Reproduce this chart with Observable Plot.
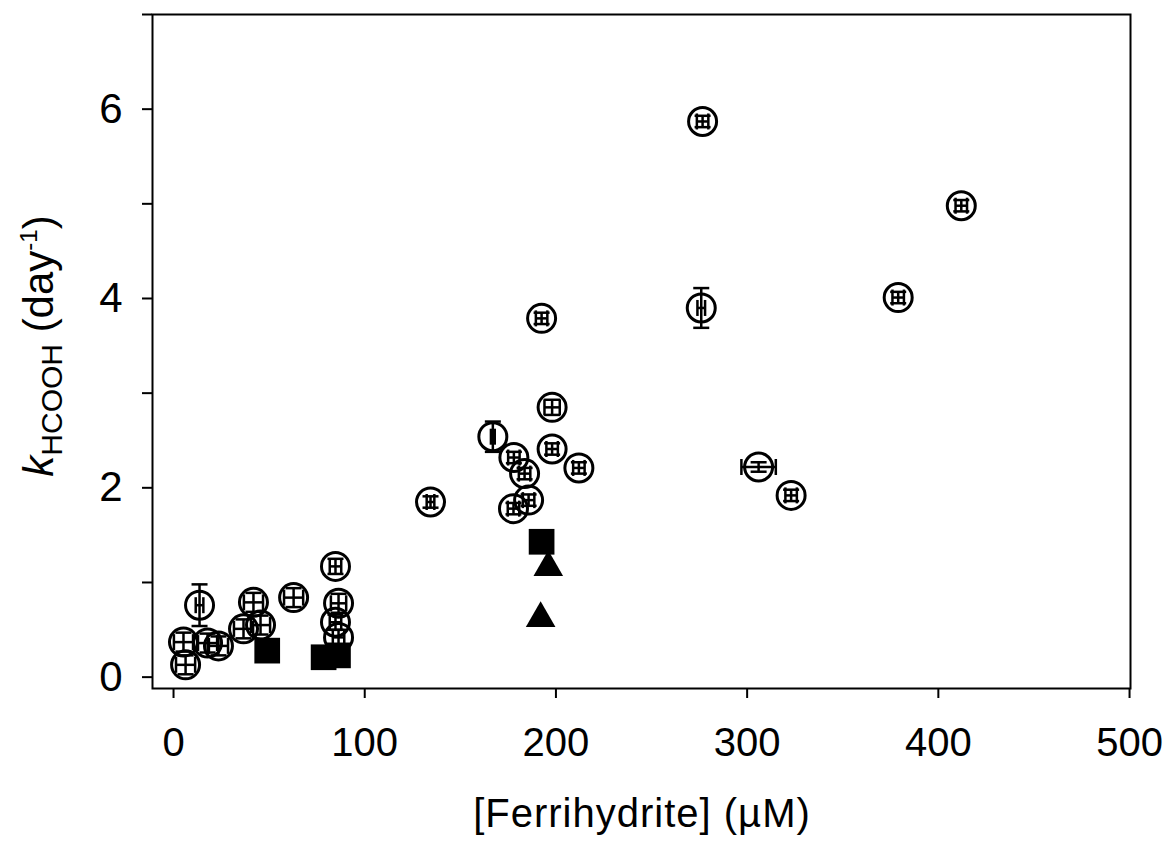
<!DOCTYPE html>
<html>
<head>
<meta charset="utf-8">
<script src="https://cdn.jsdelivr.net/npm/d3@7"></script>
<script src="https://cdn.jsdelivr.net/npm/@observablehq/plot@0.6"></script>
<style>
  html, body { margin: 0; padding: 0; background: #fff; }
  #chart svg { display: block; }
</style>
</head>
<body>
<div id="chart"></div>
<script>
// Open circles (with x and y error bars)
const circleFerri = [6.3, 5.2, 13.6, 17.8, 23.5, 36.6, 41.8, 45.5, 62.8, 84.7, 86.3, 84.7, 86.3,
                     167, 178, 183.6, 198, 212, 134.4, 185.7, 177.8, 198,
                     276.7, 412, 379, 276, 192.5, 306, 323];
const circleK     = [0.13, 0.37, 0.76, 0.36, 0.33, 0.51, 0.79, 0.55, 0.84, 1.17, 0.78, 0.58, 0.42,
                     2.54, 2.32, 2.15, 2.41, 2.21, 1.85, 1.87, 1.78, 2.85,
                     5.87, 4.98, 4.01, 3.90, 3.79, 2.22, 1.92];
const circleFerriErr = [5, 5, 2, 5, 5, 5, 5, 5, 5, 3, 4, 3, 3,
                        1, 3, 3, 3, 3, 2, 3, 3, 4,
                        3, 3, 3, 2, 3, 9, 3];
const circleKErr     = [0.1, 0.1, 0.22, 0.1, 0.1, 0.1, 0.1, 0.1, 0.1, 0.08, 0.1, 0.08, 0.08,
                        0.16, 0.06, 0.06, 0.06, 0.06, 0.06, 0.06, 0.06, 0.08,
                        0.06, 0.06, 0.06, 0.21, 0.06, 0.05, 0.06];
// Filled squares
const squareFerri = [49, 78.5, 86, 192.5];
const squareK     = [0.28, 0.21, 0.23, 1.43];
// Filled triangles
const triFerri = [196, 192];
const triK     = [1.16, 0.62];
// Ticks
const xTicks = [0, 100, 200, 300, 400, 500];
const yTicks = [0, 1, 2, 3, 4, 5, 6, 7];

const circles = circleFerri.map((x, i) => ({x, y: circleK[i], xe: circleFerriErr[i], ye: circleKErr[i]}));
const squares = squareFerri.map((x, i) => ({x, y: squareK[i]}));
const tris = triFerri.map((x, i) => ({x, y: triK[i]}));

const hCap = {draw(ctx, size) { const r = Math.sqrt(size / Math.PI); ctx.moveTo(-r, 0); ctx.lineTo(r, 0); }};
const vCap = {draw(ctx, size) { const r = Math.sqrt(size / Math.PI); ctx.moveTo(0, -r); ctx.lineTo(0, r); }};

const FONT = "'Liberation Sans', Arial, Helvetica, sans-serif";

const plot = Plot.plot({
  width: 1169,
  height: 841,
  marginLeft: 152,
  marginRight: 39,
  marginTop: 14,
  marginBottom: 153,
  style: {fontFamily: FONT, color: "black", background: "white"},
  x: {domain: [-11, 500.5]},
  y: {domain: [-0.12, 7]},
  marks: [
    Plot.frame({stroke: "black", strokeWidth: 2}),
    Plot.axisX({ticks: xTicks, tickSize: 10, tickPadding: 29, fontSize: 40, label: null, strokeWidth: 2, tickFormat: d3.format("d")}),
    Plot.axisY({ticks: yTicks, tickSize: 10, tickPadding: 20, fontSize: 42, label: null, strokeWidth: 2,
                tickFormat: d => d % 2 === 0 ? String(d) : ""}),
    // y error bars
    Plot.ruleX(circles, {x: "x", y1: d => d.y - d.ye, y2: d => d.y + d.ye, stroke: "black", strokeWidth: 2.5}),
    Plot.dot(circles, {x: "x", y: d => d.y - d.ye, symbol: hCap, r: 8, stroke: "black", strokeWidth: 2.5, fill: "none"}),
    Plot.dot(circles, {x: "x", y: d => d.y + d.ye, symbol: hCap, r: 8, stroke: "black", strokeWidth: 2.5, fill: "none"}),
    // x error bars
    Plot.ruleY(circles, {y: "y", x1: d => d.x - d.xe, x2: d => d.x + d.xe, stroke: "black", strokeWidth: 2.5}),
    Plot.dot(circles, {x: d => d.x - d.xe, y: "y", symbol: vCap, r: 8, stroke: "black", strokeWidth: 2.5, fill: "none"}),
    Plot.dot(circles, {x: d => d.x + d.xe, y: "y", symbol: vCap, r: 8, stroke: "black", strokeWidth: 2.5, fill: "none"}),
    // open circles
    Plot.dot(circles, {x: "x", y: "y", r: 14, stroke: "black", strokeWidth: 3, fill: "none"}),
    // filled squares
    Plot.dot(squares, {x: "x", y: "y", symbol: "square", r: 14.5, fill: "black", stroke: "none"}),
    // filled triangles
    Plot.dot(tris, {x: "x", y: "y", symbol: "triangle", r: 11, fill: "black", stroke: "none"})
  ]
});

document.getElementById("chart").appendChild(plot);

const svg = d3.select(plot);
// x-axis title
svg.append("text")
  .attr("x", 642).attr("y", 827)
  .attr("text-anchor", "middle")
  .attr("font-size", 40)
  .attr("letter-spacing", 1)
  .attr("font-family", FONT)
  .attr("fill", "black")
  .text("[Ferrihydrite] (\u00B5M)");
// y-axis title with subscript / superscript
const yt = svg.append("text")
  .attr("transform", "translate(53,346) rotate(-90)")
  .attr("text-anchor", "middle")
  .attr("font-size", 42)
  .attr("font-family", FONT)
  .attr("fill", "black");
yt.append("tspan").attr("font-style", "italic").text("k");
yt.append("tspan").attr("font-size", 30).attr("dy", 9).text("HCOOH");
yt.append("tspan").attr("dy", -9).text(" (day");
yt.append("tspan").attr("font-size", 24).attr("dy", -16).text("-1");
yt.append("tspan").attr("dy", 16).text(")");
</script>
</body>
</html>
